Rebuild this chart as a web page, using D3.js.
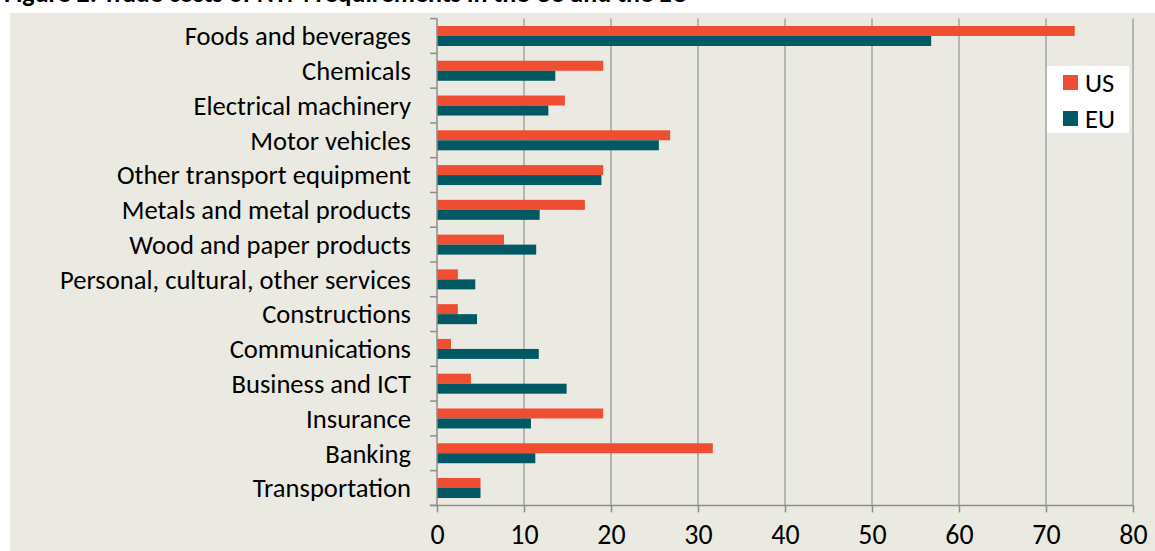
<!DOCTYPE html>
<html><head><meta charset="utf-8">
<script src="https://cdn.jsdelivr.net/npm/d3@7"></script>
<style>
html,body{margin:0;padding:0;background:#fff;}
svg{display:block;}
text{font-family:Carlito, Calibri, Lato, "Open Sans", sans-serif;}
</style></head>
<body>
<svg id="chart" width="1155" height="551"></svg>
<script>
const categories = ["Foods and beverages","Chemicals","Electrical machinery","Motor vehicles","Other transport equipment","Metals and metal products","Wood and paper products","Personal, cultural, other services","Constructions","Communications","Business and ICT","Insurance","Banking","Transportation"];
const usValues = [73.3,19.1,14.7,26.8,19.1,17.0,7.7,2.4,2.4,1.6,3.9,19.1,31.7,5.0];
const euValues = [56.8,13.6,12.8,25.5,18.9,11.8,11.4,4.4,4.6,11.7,14.9,10.8,11.3,5.0];
const seriesNames = ["US","EU"];
const xTicks = [0,10,20,30,40,50,60,70,80];
const titleText = "Figure 2: Trade costs of NTM requirements in the US and the EU";

(function(){
const colors = {US:"#F04E32", EU:"#005963"};
const svg = d3.select("#chart");

// background
svg.append("rect").attr("x",10).attr("y",13).attr("width",1145).attr("height",538).attr("fill","#EBEAE2");

// title, cut off at the top edge as in the source image
svg.append("text").attr("x",4).attr("y",2).attr("dominant-baseline","alphabetic").attr("font-size",26).attr("font-weight","bold").attr("fill","#000").text(titleText);

const x = d3.scaleLinear().domain([0,80]).range([437,1133]);
const plotTop = 18.6, plotBottom = 505.4;
const y = d3.scaleBand().domain(categories).range([plotTop,plotBottom]).paddingInner(0.425).paddingOuter(0.2125);
const ys = d3.scaleBand().domain(seriesNames).range([0,y.bandwidth()]);

// gridlines
svg.append("g").selectAll("line").data(xTicks.slice(1)).join("line")
  .attr("x1",d=>x(d)).attr("x2",d=>x(d)).attr("y1",plotTop).attr("y2",plotBottom)
  .attr("stroke","#A3A3A3").attr("stroke-width",1.5);

// bars
const data = categories.map((c,i)=>({cat:c, US:usValues[i], EU:euValues[i]}));
const groups = svg.append("g").selectAll("g").data(data).join("g")
  .attr("transform",d=>`translate(0,${y(d.cat)})`);
groups.selectAll("rect").data(d=>seriesNames.map(s=>({s, v:d[s]}))).join("rect")
  .attr("x",x(0)).attr("y",d=>ys(d.s)).attr("width",d=>x(d.v)-x(0)).attr("height",ys.bandwidth())
  .attr("fill",d=>colors[d.s]);

// x axis
const xAxis = d3.axisBottom(x).tickValues(xTicks).tickSize(7).tickPadding(12).tickSizeOuter(0);
const gx = svg.append("g").attr("transform",`translate(0,${plotBottom})`).call(xAxis);
gx.select(".domain").attr("stroke","#8C8C8C").attr("stroke-width",1.5).attr("d",`M${x(0)-7},0H${x(80)}`);
gx.selectAll(".tick line").attr("stroke","#8C8C8C").attr("stroke-width",1.5);
gx.selectAll(".tick text").attr("fill","#000").attr("font-size",24).attr("font-family",null);

// y axis line and boundary ticks
svg.append("line").attr("x1",x(0)).attr("x2",x(0)).attr("y1",plotTop).attr("y2",plotBottom).attr("stroke","#8C8C8C").attr("stroke-width",1.5);
const bounds = d3.range(categories.length+1).map(i=>plotTop+i*(plotBottom-plotTop)/categories.length);
svg.append("g").selectAll("line").data(bounds).join("line")
  .attr("x1",x(0)-7).attr("x2",x(0)).attr("y1",d=>d).attr("y2",d=>d)
  .attr("stroke","#8C8C8C").attr("stroke-width",1.5);

// category labels
const labels = svg.append("g").selectAll("text").data(categories).join("text")
  .attr("x",411).attr("y",d=>y(d)+y.bandwidth()/2).attr("dy","0.35em")
  .attr("text-anchor","end").attr("font-size",24).attr("fill","#000").text(d=>d);
let maxW = 0; labels.each(function(){maxW=Math.max(maxW,this.getComputedTextLength());});
const fs = 24*351/maxW;
labels.attr("font-size",fs);
gx.selectAll(".tick text").attr("font-size",fs*1.05);

// legend
const lg = svg.append("g");
lg.append("rect").attr("x",1047).attr("y",66).attr("width",82).attr("height",67).attr("fill","#fff");
seriesNames.forEach((s,i)=>{
  lg.append("rect").attr("x",1063).attr("y",75+i*36).attr("width",15).attr("height",15).attr("fill",colors[s]);
  lg.append("text").attr("x",1085).attr("y",82.5+i*36).attr("dy","0.35em").attr("font-size",fs).attr("fill","#000").text(s);
});
})();
</script>
</body></html>
